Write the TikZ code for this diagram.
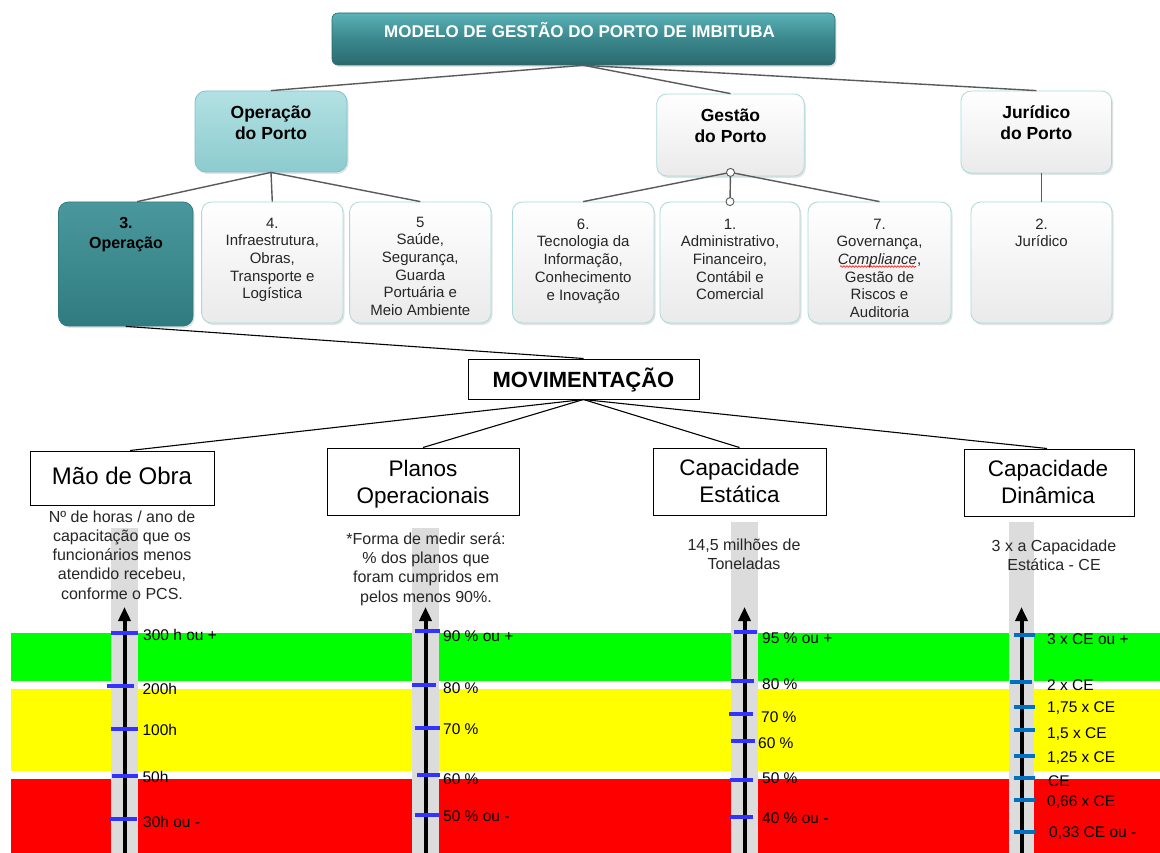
\documentclass[tikz,border=0pt]{standalone}
\usepackage{fontspec}
\setmainfont{Liberation Sans}
\usetikzlibrary{shadows,shadings,calc,arrows.meta,decorations.pathmorphing}

\definecolor{bandgreen}{HTML}{00FF00}
\definecolor{bandyellow}{HTML}{FFFF00}
\definecolor{bandred}{HTML}{FF0000}
\definecolor{stripgray}{HTML}{DCDCDC}
\definecolor{tickblue}{HTML}{3333FF}
\definecolor{tickdeep}{HTML}{0070C0}
\definecolor{linkgray}{HTML}{5A5A5A}
\definecolor{texttone}{HTML}{262626}
\definecolor{tealtop}{HTML}{5AB2B7}
\definecolor{tealmid}{HTML}{3A878C}
\definecolor{tealbot}{HTML}{2A6A6F}
\definecolor{lighttealtop}{HTML}{B3E1E3}
\definecolor{lighttealbot}{HTML}{8CCBCE}
\definecolor{lighttealedge}{HTML}{7DC3C7}
\definecolor{darktealtop}{HTML}{4A989D}
\definecolor{darktealbot}{HTML}{2F7B80}
\definecolor{paleedge}{HTML}{A9D9DC}
\definecolor{palelow}{HTML}{EAEAEA}

\newcommand{\setfs}[2]{\fontsize{#1}{#2}\selectfont}

\tikzset{
  orgline/.style={draw=linkgray, line width=1.4pt},
  movline/.style={draw=black, line width=1.1pt},
  softshadow/.style={drop shadow={opacity=0.22, shadow xshift=1.5pt, shadow yshift=-2pt}},
  titlebox/.style={rounded corners=6pt, draw=tealbot, line width=0.6pt,
    top color=tealtop, bottom color=tealbot, middle color=tealmid, softshadow, inner sep=0pt},
  titletext/.style={text=white, font=\bfseries\setfs{17}{20}, text height=12pt, text depth=0pt, inner sep=0pt},
  opbox/.style={rounded corners=11pt, draw=lighttealedge, line width=0.8pt,
    top color=lighttealtop, bottom color=lighttealbot, softshadow, inner sep=0pt},
  darkbox/.style={rounded corners=10pt, draw=darktealbot, line width=0.8pt,
    top color=darktealtop, bottom color=darktealbot, softshadow, inner sep=0pt},
  palebox/.style={rounded corners=10pt, draw=paleedge, line width=0.8pt,
    top color=white, bottom color=palelow, softshadow, inner sep=0pt},
  lvltwotext/.style={align=center, font=\bfseries\setfs{17.5}{21}, inner sep=0pt, anchor=north},
  lvlthreebold/.style={align=center, font=\bfseries\setfs{16}{20}, inner sep=0pt, anchor=north},
  lvlthreetext/.style={align=center, font=\setfs{15}{17.7}, text=texttone, inner sep=0pt, anchor=north},
  hubdot/.style={circle, draw=linkgray, fill=white, line width=0.9pt, minimum size=8pt, inner sep=0pt},
  movbox/.style={draw=black, line width=1pt, fill=white, inner sep=0pt,
    font=\bfseries\setfs{22}{26}, text height=16pt, text depth=0pt},
  catbox/.style={draw=black, line width=1pt, fill=white, inner sep=0pt},
  cattext/.style={align=center, font=\setfs{22.5}{27}, inner sep=0pt},
  desc/.style={align=center, font=\setfs{16}{19.2}, text=texttone, inner sep=0pt},
  scalearrow/.style={draw=black, line width=4pt, -{Triangle[length=14pt,width=12pt]}},
  tickmark/.style={line width=4pt},
  ticklbl/.style={anchor=west, font=\setfs{15.5}{18}, text height=11pt, text depth=0pt, inner sep=0pt}
}

\begin{document}
\begin{tikzpicture}[x=1pt,y=-1pt]
\useasboundingbox (0,0) rectangle (1160,853);
\fill[white] (0,0) rectangle (1160,853);

% performance bands
\fill[bandgreen] (11,633) rectangle (1160,681);
\fill[bandyellow] (11,689) rectangle (1160,771);
\fill[bandred] (11,779) rectangle (1160,853);

% gray strips behind the scales
\fill[stripgray] (111,528) rectangle (138,853);
\fill[stripgray] (412,528) rectangle (439,853);
\fill[stripgray] (731,522) rectangle (758,853);
\fill[stripgray] (1009,522) rectangle (1034,853);

% ---------- management model ----------
\node[titlebox, minimum width=503pt, minimum height=52pt] (title) at (583.5,39) {};
\node[titletext] (title-t) at (579.5,32) {MODELO DE GESTÃO DO PORTO DE IMBITUBA};

\node[opbox, minimum width=152pt, minimum height=81pt] (opp) at (271,131.5) {};
\node[lvltwotext] (opp-t) at (271,105.5) {Operação\\do Porto};
\node[palebox, minimum width=147.5pt, minimum height=82pt] (gest) at (730.5,135) {};
\node[lvltwotext] (gest-t) at (730.5,108.5) {Gestão\\do Porto};
\node[palebox, minimum width=150.6pt, minimum height=82pt] (jur) at (1036.3,132) {};
\node[lvltwotext] (jur-t) at (1036.3,105.5) {Jurídico\\do Porto};

\node[darkbox, minimum width=134.5pt, minimum height=124pt] (d3) at (125.75,264) {};
\node[lvlthreebold] (d3-t) at (126,217.3) {3.\\Operação};
\node[palebox, minimum width=141.4pt, minimum height=121pt] (d4) at (272.3,262.5) {};
\node[lvlthreetext] (d4-t) at (272.3,217.6) {4.\\Infraestrutura,\\Obras,\\Transporte e\\Logística};
\node[palebox, minimum width=141.4pt, minimum height=121pt] (d5) at (420.3,262.5) {};
\node[lvlthreetext] (d5-t) at (420.3,216.6) {5\\Saúde,\\Segurança,\\Guarda\\Portuária e\\Meio Ambiente};
\node[palebox, minimum width=141.6pt, minimum height=121pt] (d6) at (583.2,262.5) {};
\node[lvlthreetext] (d6-t) at (583.2,218.6) {6.\\Tecnologia da\\Informação,\\Conhecimento\\e Inovação};
\node[palebox, minimum width=140pt, minimum height=121pt] (d1) at (730,262.5) {};
\node[lvlthreetext] (d1-t) at (730,218.6) {1.\\Administrativo,\\Financeiro,\\Contábil e\\Comercial};
\node[palebox, minimum width=143pt, minimum height=121pt] (d7) at (879.5,262.5) {};
\node[lvlthreetext] (d7-t) at (879.5,218.6) {7.\\Governança,\\\textit{Compliance},\\Gestão de\\Riscos e\\Auditoria};
\node[palebox, minimum width=141pt, minimum height=121pt] (d2) at (1041.5,262.5) {};
\node[lvlthreetext] (d2-t) at (1041.5,218.6) {2.\\Jurídico};

% spell-check underline under the italic word
\draw[red, line width=0.6pt, decorate, decoration={snake, amplitude=0.8pt, segment length=3pt}]
  (840,266.5) -- (916,266.5);

% chart connectors
\draw[orgline] (title.south) -- (opp.north);
\draw[orgline] (title.south) -- (gest.north);
\draw[orgline] (title.south) -- (jur.north);
\draw[orgline] (opp.south) -- ($(d3.north)+(11.5,0)$);
\draw[orgline] (opp.south) -- (d4.north);
\draw[orgline] (opp.south) -- (d5.north);
\coordinate (ghub) at ($(gest.south)+(0,-4)$);
\draw[orgline] (ghub) -- (d6.north);
\draw[orgline] (ghub) -- (d7.north);
\draw[orgline] (ghub) -- (d1.north);
\node[hubdot] (g1) at (ghub) {};
\node[hubdot] (g2) at (d1.north) {};
\draw[orgline] (d2.north |- jur.south) -- (d2.north);

% ---------- MOVIMENTAÇÃO ----------
\node[movbox, minimum width=231pt, minimum height=40pt] (mov) at (583.5,379) {MOVIMENTAÇÃO};
\draw[movline] (d3.south) -- (mov.north);

\node[catbox, minimum width=184pt, minimum height=54pt] (mao) at (122,478) {};
\node[cattext, font=\setfs{24}{27}] (mao-t) at (122,476) {Mão de Obra};
\node[catbox, minimum width=192pt, minimum height=67pt] (plan) at (423,481.5) {};
\node[cattext] (plan-t) at (423,483.7) {Planos\\Operacionais};
\node[catbox, minimum width=173pt, minimum height=67pt] (est) at (739.5,481.5) {};
\node[cattext] (est-t) at (739.5,481.4) {Capacidade\\Estática};
\node[catbox, minimum width=170pt, minimum height=67pt] (din) at (1049,482.5) {};
\node[cattext] (din-t) at (1048,481.8) {Capacidade\\Dinâmica};

\draw[movline] (mov.south) -- ($(mao.north)+(8,0)$);
\draw[movline] (mov.south) -- (plan.north);
\draw[movline] (mov.south) -- (est.north);
\draw[movline] (mov.south) -- ($(din.north)+(-2,0)$);

% indicator descriptions
\node[desc] (mao-d) at (122,555) {Nº de horas / ano de\\capacitação que os\\funcionários menos\\atendido recebeu,\\conforme o PCS.};
\node[desc] (plan-d) at (426,569) {*Forma de medir será:\\\% dos planos que\\foram cumpridos em\\pelos menos 90\%.};
\node[desc] (est-d) at (744,554.3) {14,5 milhões de\\Toneladas};
\node[desc] (din-d) at (1054,555.3) {3 x a Capacidade\\Estática - CE};

% ---------- scales ----------
\coordinate (s1b) at (124.5,853); \coordinate (s1t) at (124.5,607);
\coordinate (s2b) at (425.5,853); \coordinate (s2t) at (425.5,607);
\coordinate (s3b) at (744.5,853); \coordinate (s3t) at (744.5,607);
\coordinate (s4b) at (1021.5,853); \coordinate (s4t) at (1021.5,607);
\draw[scalearrow] (s1b) -- (s1t);
\draw[scalearrow] (s2b) -- (s2t);
\draw[scalearrow] (s3b) -- (s3t);
\draw[scalearrow] (s4b) -- (s4t);

% tick marks: x-from, x-to, y
\foreach \xa/\xb/\yy in {111/138/633, 107/134/686, 111/138/729, 112/138/776, 110/136.5/819,
                         415/439.5/631, 412/436/685, 415/439.5/728, 417/439.5/775, 415/439.5/815,
                         733.5/757/632, 730.6/753.5/681, 729/753/714, 731/755/741, 729.5/753/780, 729.5/753/817}
  \draw[tickmark, draw=tickblue] (\xa,\yy) -- (\xb,\yy);
\foreach \xa/\xb/\yy in {1013.6/1035/635, 1010/1032/682, 1013.6/1035/707, 1013.6/1035/730,
                         1013.6/1035/756, 1013.6/1035/778, 1013.6/1035/800, 1013.6/1035/832}
  \draw[tickmark, draw=tickdeep] (\xa,\yy) -- (\xb,\yy);

% tick labels
\node[ticklbl] (m1) at (143,635) {300 h ou +};
\node[ticklbl] (m2) at (142.4,689) {200h};
\node[ticklbl] (m3) at (142.4,730) {100h};
\node[ticklbl] (m4) at (142.4,777) {50h};
\node[ticklbl] (m5) at (143,822) {30h ou -};

\node[ticklbl] (p1) at (443,636) {90 \% ou +};
\node[ticklbl] (p2) at (443,688) {80 \%};
\node[ticklbl] (p3) at (443,729) {70 \%};
\node[ticklbl] (p4) at (443,779) {60 \%};
\node[ticklbl] (p5) at (443,816) {50 \% ou -};

\node[ticklbl] (e1) at (762,638) {95 \% ou +};
\node[ticklbl] (e2) at (762,684) {80 \%};
\node[ticklbl] (e3) at (761,717) {70 \%};
\node[ticklbl] (e4) at (758,743) {60 \%};
\node[ticklbl] (e5) at (762,778) {50 \%};
\node[ticklbl] (e6) at (762,818) {40 \% ou -};

\node[ticklbl] (c1) at (1047,639) {3 x CE ou +};
\node[ticklbl] (c2) at (1047,685) {2 x CE};
\node[ticklbl] (c3) at (1047,707) {1,75 x CE};
\node[ticklbl] (c4) at (1047,733) {1,5 x CE};
\node[ticklbl] (c5) at (1047,757) {1,25 x CE};
\node[ticklbl] (c6) at (1048,781) {CE};
\node[ticklbl] (c7) at (1047,801) {0,66 x CE};
\node[ticklbl] (c8) at (1049,832) {0,33 CE ou -};
\end{tikzpicture}
\end{document}
